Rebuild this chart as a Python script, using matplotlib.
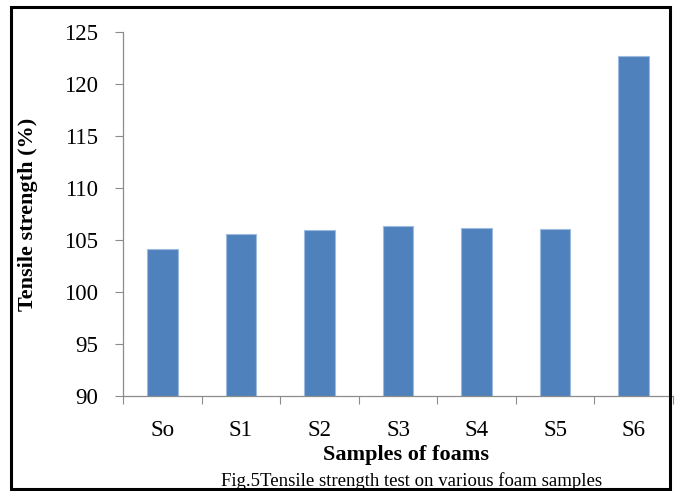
import numpy as np
import matplotlib.pyplot as plt
from matplotlib.patches import Rectangle

# tensile strength of the foam samples
samples = ['So', 'S1', 'S2', 'S3', 'S4', 'S5', 'S6']
strength = [104.1, 105.6, 106.0, 106.3, 106.2, 106.1, 122.7]
y_ticks = [90, 95, 100, 105, 110, 115, 120, 125]

plt.rcParams['font.family'] = ['Liberation Serif', 'DejaVu Serif']

W, H = 676, 491
fig = plt.figure(figsize=(W / 100, H / 100), dpi=100)
ax = fig.add_axes([123 / W, 1 - 396 / H, 550 / W, 364 / H])

x = np.arange(len(samples))
ax.bar(x, strength, width=0.39, bottom=0, color='#4f81bd',
       edgecolor='#9dbbe0', linewidth=0.8, zorder=2)

ax.set_xlim(-0.5, len(samples) - 0.5)
ax.set_ylim(min(y_ticks), max(y_ticks))
ax.set_yticks(y_ticks)
ax.tick_params(axis='y', labelsize=16.5, length=6, width=0.8,
               color='#8c8c8c', pad=12)

# boundary ticks on the category axis, labels at the centres
ax.set_xticks(np.arange(len(samples) + 1) - 0.5)
ax.set_xticklabels([])
ax.set_xticks(x, minor=True)
ax.set_xticklabels(samples, minor=True)
ax.tick_params(axis='x', which='major', length=6, width=0.8, color='#8c8c8c')
ax.tick_params(axis='x', which='minor', length=0, labelsize=16.5, pad=17)

for side in ['top', 'right']:
    ax.spines[side].set_visible(False)
for side in ['left', 'bottom']:
    ax.spines[side].set_color('#8c8c8c')
    ax.spines[side].set_linewidth(0.9)

ax.set_ylabel('Tensile strength (%)', fontsize=16, fontweight='bold',
              va='center')
ax.yaxis.set_label_coords(-0.173, 0.5)
ax.set_xlabel('Samples of foams', fontsize=16, fontweight='bold',
              va='center')
ax.xaxis.set_label_coords(0.515, -0.162)

fig.text(412 / W, 1 - 481 / H,
         'Fig.5Tensile strength test on various foam samples',
         fontsize=13.5, ha='center', va='center')

# frame round the whole figure
fig.patches.append(Rectangle((11 / W, 1 - 489 / H), 659 / W, 482 / H,
                             transform=fig.transFigure, fill=False,
                             edgecolor='black', linewidth=2.2, zorder=10))

fig.savefig('out.png', dpi=100)
